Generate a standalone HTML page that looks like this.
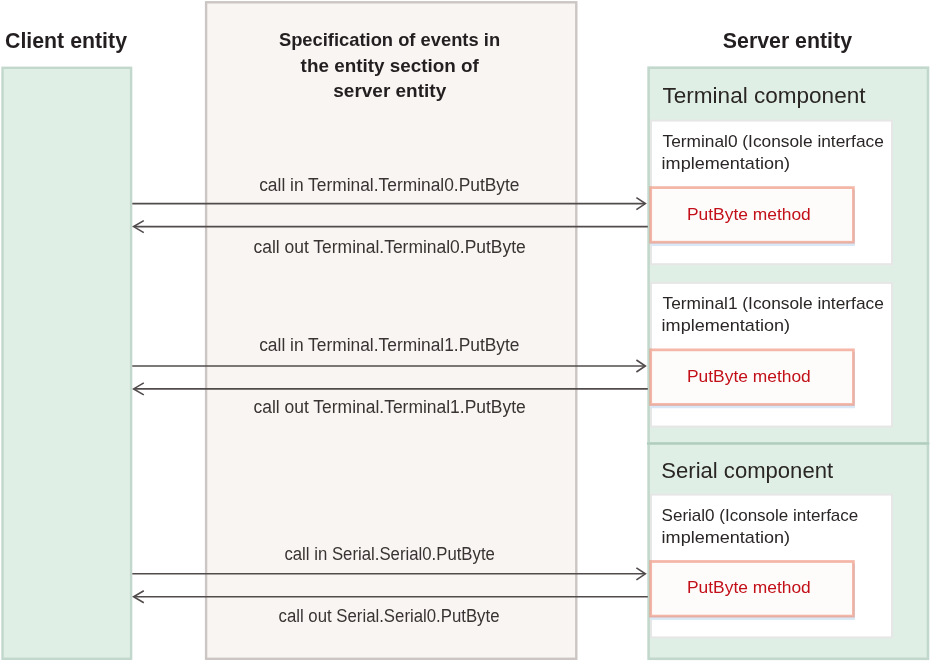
<!DOCTYPE html>
<html>
<head>
<meta charset="utf-8">
<style>
html,body{margin:0;padding:0;background:#fff;width:930px;height:661px;overflow:hidden;}
svg{display:block;will-change:transform;}
text{font-family:"Liberation Sans",sans-serif;}
.b{font-weight:700;fill:#231f20;}
.r{font-weight:400;fill:#2a2625;}
.lab{font-weight:400;fill:#393433;}
.red{font-weight:400;fill:#c20f18;}
</style>
</head>
<body>
<svg width="930" height="661" viewBox="0 0 930 661">
  <!-- Client entity box -->
  <rect x="2.5" y="67.8" width="128.6" height="591" fill="#e0efe6" stroke="#c2d8cc" stroke-width="2.4"/>
  <!-- Spec box -->
  <rect x="206.1" y="2.3" width="370.2" height="656.5" fill="#f9f5f3" stroke="#cbc5c3" stroke-width="2.4"/>
  <!-- Server: terminal component -->
  <rect x="648.6" y="67.7" width="279.4" height="375.8" fill="#e0efe6" stroke="#c2d8cc" stroke-width="2.6"/>
  <!-- Server: serial component -->
  <rect x="648.6" y="443.5" width="279.4" height="215.3" fill="#e0efe6" stroke="#c2d8cc" stroke-width="2.6"/>
  <line x1="647" y1="443.5" x2="929" y2="443.5" stroke="#afcdbd" stroke-width="2"/>

  <!-- white inner boxes -->
  <rect x="651" y="120.6" width="241" height="143.6" fill="#ffffff" stroke="#e6e6e6" stroke-width="2"/>
  <rect x="651" y="282.9" width="241" height="143.6" fill="#ffffff" stroke="#e6e6e6" stroke-width="2"/>
  <rect x="651" y="494.6" width="241" height="142.8" fill="#ffffff" stroke="#e6e6e6" stroke-width="2"/>

  <!-- PutByte boxes (shadow + box) -->
  <rect x="650.7" y="189.80" width="204.2" height="56.2" fill="#d9e8f6"/>
  <rect x="650.7" y="187.6" width="202.7" height="54.6" fill="#fefcfb" stroke="rgba(236,135,110,0.6)" stroke-width="2.75"/>
  <rect x="650.7" y="352.05" width="204.2" height="56.2" fill="#d9e8f6"/>
  <rect x="650.7" y="349.85" width="202.7" height="54.6" fill="#fefcfb" stroke="rgba(236,135,110,0.6)" stroke-width="2.75"/>
  <rect x="650.7" y="563.70" width="204.2" height="56.2" fill="#d9e8f6"/>
  <rect x="650.7" y="561.5" width="202.7" height="54.6" fill="#fefcfb" stroke="rgba(236,135,110,0.6)" stroke-width="2.75"/>

  <!-- arrows -->
  <g stroke="#514c4b" stroke-width="1.6" fill="none">
    <line x1="132.3" y1="203.6" x2="645" y2="203.6"/>
    <polyline points="636.4,197.6 645.4,203.6 636.4,209.6" stroke-linejoin="miter"/>
    <line x1="135" y1="226.6" x2="647.8" y2="226.6"/>
    <polyline points="143.8,220.6 133.6,226.6 143.8,232.6" stroke-linejoin="miter"/>
    <line x1="132.3" y1="366.0" x2="645" y2="366.0"/>
    <polyline points="636.4,360.0 645.4,366.0 636.4,372.0" stroke-linejoin="miter"/>
    <line x1="135" y1="388.9" x2="647.8" y2="388.9"/>
    <polyline points="143.8,382.9 133.6,388.9 143.8,394.9" stroke-linejoin="miter"/>
    <line x1="132.3" y1="573.8" x2="645" y2="573.8"/>
    <polyline points="636.4,567.8 645.4,573.8 636.4,579.8" stroke-linejoin="miter"/>
    <line x1="135" y1="596.7" x2="647.8" y2="596.7"/>
    <polyline points="143.8,590.7 133.6,596.7 143.8,602.7" stroke-linejoin="miter"/>
  </g>

  <!-- headers -->
  <text class="b" x="5" y="47.9" font-size="22" textLength="122" lengthAdjust="spacingAndGlyphs">Client entity</text>
  <text class="b" x="722.8" y="47.9" font-size="22" textLength="129.2" lengthAdjust="spacingAndGlyphs">Server entity</text>

  <text class="b" x="278.9" y="46.2" font-size="18.4" textLength="221.2" lengthAdjust="spacingAndGlyphs">Specification of events in</text>
  <text class="b" x="300.6" y="71.6" font-size="18.4" textLength="178.3" lengthAdjust="spacingAndGlyphs">the entity section of</text>
  <text class="b" x="333.3" y="96.5" font-size="18.4" textLength="112.9" lengthAdjust="spacingAndGlyphs">server entity</text>

  <!-- arrow labels -->
  <g class="lab" font-size="18">
    <text x="259.2" y="190.5" textLength="260.3" lengthAdjust="spacingAndGlyphs">call in Terminal.Terminal0.PutByte</text>
    <text x="253.5" y="252.5" textLength="272.3" lengthAdjust="spacingAndGlyphs">call out Terminal.Terminal0.PutByte</text>
    <text x="259.2" y="351.1" textLength="260.3" lengthAdjust="spacingAndGlyphs">call in Terminal.Terminal1.PutByte</text>
    <text x="253.5" y="412.7" textLength="272.3" lengthAdjust="spacingAndGlyphs">call out Terminal.Terminal1.PutByte</text>
    <text x="284.4" y="560.4" textLength="210.5" lengthAdjust="spacingAndGlyphs">call in Serial.Serial0.PutByte</text>
    <text x="278.5" y="622" textLength="221" lengthAdjust="spacingAndGlyphs">call out Serial.Serial0.PutByte</text>
  </g>

  <!-- server texts -->
  <text class="r" x="662.5" y="102.9" font-size="22" textLength="203" lengthAdjust="spacingAndGlyphs">Terminal component</text>
  <text class="r" x="661.3" y="477.9" font-size="22" textLength="171.8" lengthAdjust="spacingAndGlyphs">Serial component</text>

  <g class="r" font-size="17">
    <text x="662.5" y="146.9" textLength="221.3" lengthAdjust="spacingAndGlyphs">Terminal0 (Iconsole interface</text>
    <text x="661.6" y="169.2" textLength="128.4" lengthAdjust="spacingAndGlyphs">implementation)</text>
    <text x="662.5" y="308.7" textLength="221.3" lengthAdjust="spacingAndGlyphs">Terminal1 (Iconsole interface</text>
    <text x="661.6" y="331" textLength="128.4" lengthAdjust="spacingAndGlyphs">implementation)</text>
    <text x="661.6" y="520.7" textLength="196.7" lengthAdjust="spacingAndGlyphs">Serial0 (Iconsole interface</text>
    <text x="661.6" y="543" textLength="128.4" lengthAdjust="spacingAndGlyphs">implementation)</text>
  </g>

  <g class="red" font-size="17">
    <text x="687" y="219.6" textLength="123.8" lengthAdjust="spacingAndGlyphs">PutByte method</text>
    <text x="687" y="381.6" textLength="123.8" lengthAdjust="spacingAndGlyphs">PutByte method</text>
    <text x="687" y="593.3" textLength="123.8" lengthAdjust="spacingAndGlyphs">PutByte method</text>
  </g>
</svg>
</body>
</html>
